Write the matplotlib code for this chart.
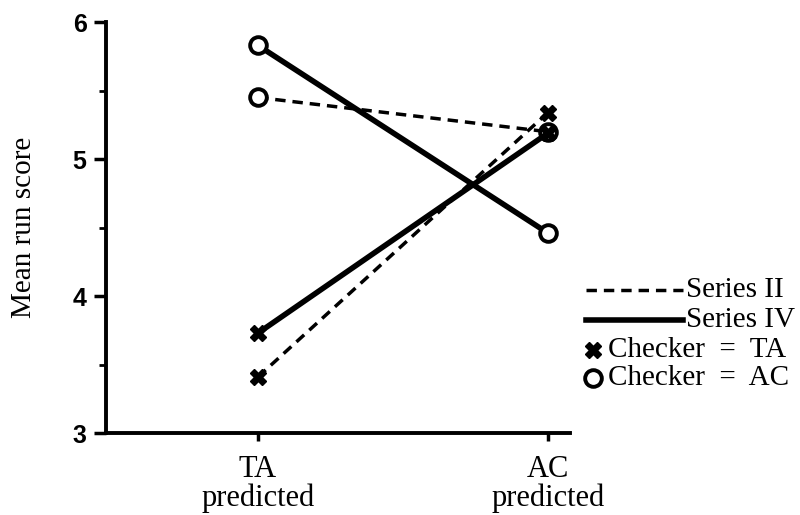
import matplotlib.pyplot as plt
from matplotlib.lines import Line2D

# data
conditions = ["TA\npredicted", "AC\npredicted"]
series2_checker_ta = [3.41, 5.34]
series2_checker_ac = [5.45, 5.20]
series4_checker_ta = [3.73, 5.19]
series4_checker_ac = [5.83, 4.46]

SERIF = ["Liberation Serif", "DejaVu Serif"]
SANS = ["Liberation Sans", "DejaVu Sans"]

fig = plt.figure(figsize=(8, 5.15), dpi=100)
ax = fig.add_axes([0.1325, 0.159, 0.58, 0.798])

x = [0, 1]
dash = dict(ls=(0, (3, 2)), lw=2.5, color="black")
solid = dict(ls="-", lw=4, color="black")
circ = dict(marker="o", ms=12, mfc="white", mec="black", mew=2.8)
cross = dict(marker="X", ms=11, mfc="black", mec="black", mew=1)

ax.plot(x, series2_checker_ac, **dash, **circ, zorder=2)
ax.plot(x, series4_checker_ac, **solid, **circ, zorder=2)
ax.plot(x, series2_checker_ta, **dash, **cross, zorder=3)
ax.plot(x, series4_checker_ta, **solid, **cross, zorder=3)

ax.set_xlim(-0.524, 1.076)
ax.set_ylim(3, 6)
ax.set_xticks(x)
ax.set_xticklabels(conditions, family=SERIF, fontsize=22, linespacing=0.95)
ax.set_yticks([3, 4, 5, 6])
ax.set_yticks([3.5, 4.5, 5.5], minor=True)
ax.set_yticklabels(["3", "4", "5", "6"], family=SANS, fontsize=18, fontweight="bold")
ax.tick_params(axis="y", which="major", length=9, width=2.5, pad=5)
ax.tick_params(axis="y", which="minor", length=5, width=2)
ax.tick_params(axis="x", length=6, width=2.5, pad=10)
ax.set_ylabel("Mean run score", family=SERIF, fontsize=21, labelpad=26)

for side in ["top", "right"]:
    ax.spines[side].set_visible(False)
for side in ["left", "bottom"]:
    ax.spines[side].set_linewidth(2.8)
ax.spines["bottom"].set_bounds(-0.524, 1.076)

# legend drawn by hand to match the layout of the original
W, H = 800, 515
def fx(px):
    return px / W
def fy(py):
    return 1 - py / H

rows = [
    ("Series II", dash, None),
    ("Series IV", solid, None),
    ("Checker  =  TA", None, cross),
    ("Checker  =  AC", None, circ),
]
row_y = [290, 320, 350, 378]
for (label, line, mark), py in zip(rows, row_y):
    if line is not None:
        fig.add_artist(Line2D([fx(586), fx(683)], [fy(py), fy(py)], transform=fig.transFigure, **line))
        tx = 686
    else:
        fig.add_artist(Line2D([fx(593)], [fy(py)], transform=fig.transFigure, ls="none", **mark))
        tx = 608
    fig.text(fx(tx), fy(py), label, family=SERIF, fontsize=21, va="center", ha="left")

fig.savefig("out.png", dpi=100)
